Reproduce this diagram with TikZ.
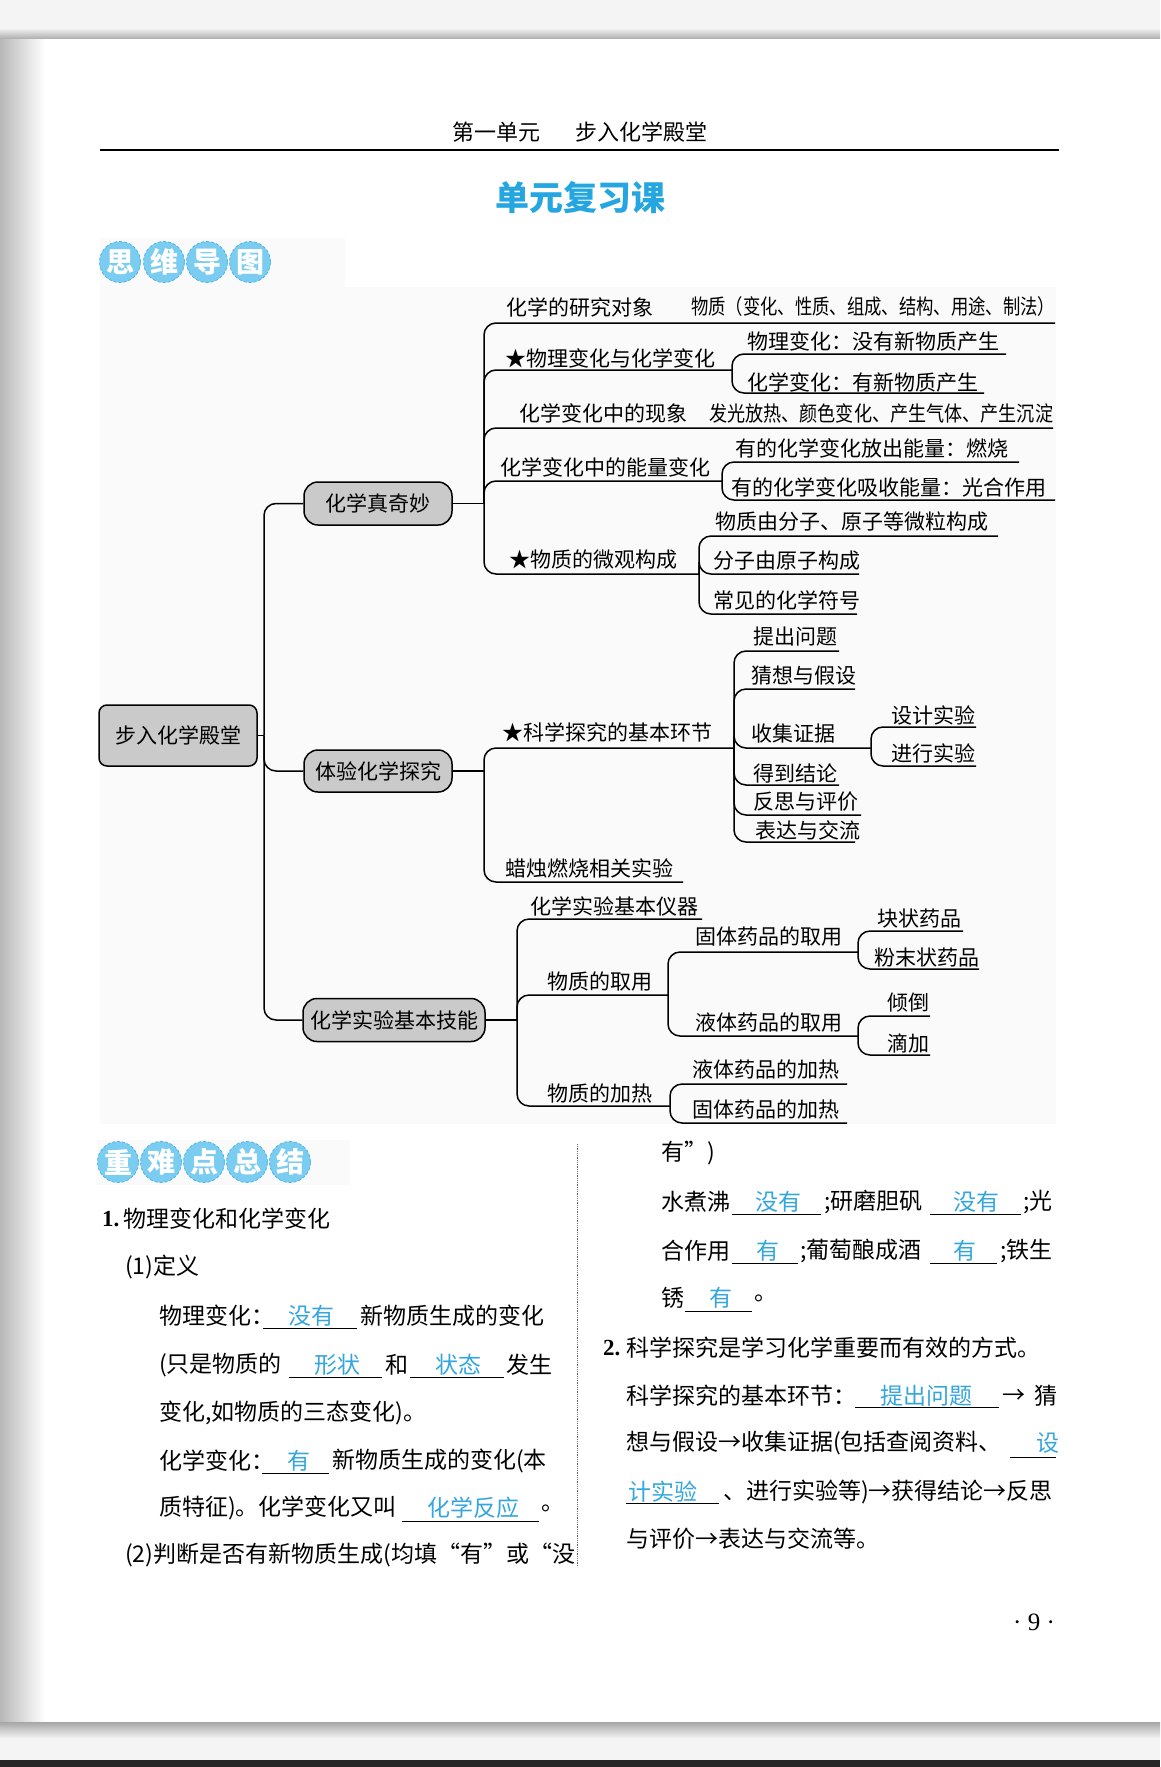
\documentclass[tikz,border=0pt]{standalone}
\usepackage{fontspec}
\usepackage{graphicx}
\setmainfont{Noto Sans CJK SC}
\newfontfamily\serifnum{Liberation Serif}
\definecolor{ansblue}{RGB}{52,166,220}
\definecolor{titleblue}{RGB}{38,166,224}
\definecolor{badgefill}{RGB}{122,204,240}
\definecolor{badgeedge}{RGB}{80,182,228}
\definecolor{boxgray}{RGB}{202,202,202}
\definecolor{bggray}{RGB}{250,250,250}
\definecolor{pagebg}{RGB}{244,244,244}
\tikzset{
  br/.style={line width=1.5pt, rounded corners=12pt},
  mm/.style={inner sep=0pt, anchor=west, font=\fontsize{21pt}{21pt}\selectfont},
  hub/.style={draw, line width=1.5pt, fill=boxgray, rounded corners=14pt, inner sep=0pt, font=\fontsize{21pt}{21pt}\selectfont},
  bt/.style={inner sep=0pt, anchor=west, font=\fontsize{23pt}{23pt}\selectfont},
  ans/.style={bt, text=ansblue},
  blank/.style={line width=0.9pt},
  badge/.style={circle, fill=badgefill, draw=badgeedge, densely dashed, line width=0.8pt, minimum size=41pt, inner sep=0pt, text=white, font=\fontsize{28pt}{28pt}\selectfont\bfseries},
}
\begin{document}
\begin{tikzpicture}[x=1pt,y=-1pt]
\useasboundingbox (0,0) rectangle (1160,1767);
% page background
\fill[pagebg] (0,0) rectangle (1160,1767);
\fill[white] (0,38) rectangle (1160,1722);
\shade[left color=black!28, right color=white] (0,38) rectangle (45,1722);
\shade[top color=pagebg, bottom color=black!30] (0,28) rectangle (1160,38);
\shade[top color=black!35, bottom color=pagebg] (0,1722) rectangle (1160,1738);
\fill[black!85] (0,1760) rectangle (1160,1767);

% header
\node[font=\fontsize{22pt}{22pt}\selectfont] (hdr) at (580,132) {第一单元\hspace{35pt}步入化学殿堂};
\draw[line width=1.1pt] (100,150) -- (1059,150);
\node[text=titleblue, font=\fontsize{34pt}{34pt}\selectfont\bfseries] (title) at (580,198) {单元复习课};

% badge 1
\fill[bggray] (100,238) rectangle (345,287);
\node[badge] (ba1) at (120,262) {思};
\node[badge] (ba2) at (164,262) {维};
\node[badge] (ba3) at (207,262) {导};
\node[badge] (ba4) at (250,262) {图};

% mind map background
\fill[bggray] (100,287) rectangle (1056,1124);

% hubs
\node[hub, minimum width=158pt, minimum height=61pt, rounded corners=8pt] (root) at (178,735.5) {步入化学殿堂};
\node[hub, minimum width=148pt, minimum height=43pt] (A) at (378,503.5) {化学真奇妙};
\node[hub, minimum width=148pt, minimum height=42pt] (B) at (378,771) {体验化学探究};
\node[hub, minimum width=182pt, minimum height=43pt] (C) at (394,1020) {化学实验基本技能};

\coordinate (S) at (264,735.5);
\draw[br] (root.east) -- (S);
\draw[br] (S) |- (A.west);
\draw[br] (S) |- (B.west);
\draw[br] (S) |- (C.west);

% ---- branch A
\coordinate (JA) at (484,503.5);
\draw[br] (A.east) -- (JA);
\node[mm] (a1) at (506,307) {化学的研究对象};
\node[mm] (a1x) at (691,307) {\scalebox{0.825}[1]{物质（变化、性质、组成、结构、用途、制法）}};
\coordinate (a1e) at (1055,323);
\draw[br] (JA) |- (a1e);

\node[mm] (a2) at (505,358) {★物理变化与化学变化};
\coordinate (a2e) at (732,370);
\draw[br] (JA) |- (a2e);
\node[mm] (a2a) at (747,341) {物理变化：没有新物质产生};
\coordinate (a2ae) at (1006,354);
\node[mm] (a2b) at (747,382) {化学变化：有新物质产生};
\coordinate (a2be) at (984,393);
\draw[br] (a2e) |- (a2ae);
\draw[br] (a2e) |- (a2be);

\node[mm] (a3) at (519,413) {化学变化中的现象};
\node[mm] (a3x) at (709,413) {\scalebox{0.862}[1]{发光放热、颜色变化、产生气体、产生沉淀}};
\coordinate (a3e) at (1053,428);
\draw[br] (JA) |- (a3e);

\node[mm] (a4) at (500,467) {化学变化中的能量变化};
\coordinate (a4e) at (722,481);
\draw[br] (JA) |- (a4e);
\node[mm] (a4a) at (735,448) {有的化学变化放出能量：燃烧};
\coordinate (a4ae) at (1019,462);
\node[mm] (a4b) at (731,487) {有的化学变化吸收能量：光合作用};
\coordinate (a4be) at (1055,500);
\draw[br] (a4e) |- (a4ae);
\draw[br] (a4e) |- (a4be);

\node[mm] (a5) at (509,560) {★物质的微观构成};
\coordinate (a5e) at (699,574);
\draw[br] (JA) |- (a5e);
\node[mm] (a5a) at (715,522) {物质由分子、原子等微粒构成};
\coordinate (a5ae) at (998,536);
\node[mm] (a5b) at (713,561) {分子由原子构成};
\coordinate (a5be) at (859,574);
\node[mm] (a5c) at (713,600) {常见的化学符号};
\coordinate (a5ce) at (857,614);
\draw[br] (a5e) |- (a5ae);
\draw[br] (a5e) |- (a5be);
\draw[br] (a5e) |- (a5ce);

% ---- branch B
\coordinate (JB) at (484,771);
\draw[br] (B.east) -- (JB);
\node[mm] (b1) at (502,732) {★科学探究的基本环节};
\coordinate (b1e) at (734,748);
\draw[br] (JB) |- (b1e);
\node[mm] (b1a) at (753,637) {提出问题};
\coordinate (b1ae) at (839,651);
\node[mm] (b1b) at (751,676) {猜想与假设};
\coordinate (b1be) at (855,689);
\node[mm] (b1c) at (751,733) {收集证据};
\coordinate (b1ce) at (871,748);
\node[mm] (b1d) at (753,773) {得到结论};
\coordinate (b1de) at (839,785);
\node[mm] (b1f) at (753,802) {反思与评价};
\coordinate (b1fe) at (861,815);
\node[mm] (b1g) at (755,830) {表达与交流};
\coordinate (b1ge) at (855,842);
\draw[br] (b1e) |- (b1ae);
\draw[br] (b1e) |- (b1be);
\draw[br] (b1e) |- (b1ce);
\draw[br] (b1e) |- (b1de);
\draw[br] (b1e) |- (b1fe);
\draw[br] (b1e) |- (b1ge);
\node[mm] (b1c1) at (891,715) {设计实验};
\coordinate (b1c1e) at (976,727);
\node[mm] (b1c2) at (891,753) {进行实验};
\coordinate (b1c2e) at (976,766);
\draw[br] (b1ce) |- (b1c1e);
\draw[br] (b1ce) |- (b1c2e);

\node[mm] (b2) at (505,868) {蜡烛燃烧相关实验};
\coordinate (b2e) at (683,882);
\draw[br] (JB) |- (b2e);

% ---- branch C
\coordinate (JC) at (517,1020);
\draw[br] (C.east) -- (JC);
\node[mm] (c1) at (530,906) {化学实验基本仪器};
\coordinate (c1e) at (702,919);
\draw[br] (JC) |- (c1e);
\node[mm] (c2) at (547,982) {物质的取用};
\coordinate (c2e) at (668,995);
\draw[br] (JC) |- (c2e);
\node[mm] (c3) at (547,1094) {物质的加热};
\coordinate (c3e) at (670,1106);
\draw[br] (JC) |- (c3e);

\node[mm] (c2a) at (695,937) {固体药品的取用};
\coordinate (c2ae) at (858,952);
\node[mm] (c2b) at (695,1023) {液体药品的取用};
\coordinate (c2be) at (858,1036);
\draw[br] (c2e) |- (c2ae);
\draw[br] (c2e) |- (c2be);
\node[mm] (c2a1) at (877,919) {块状药品};
\coordinate (c2a1e) at (963,931);
\node[mm] (c2a2) at (874,957) {粉末状药品};
\coordinate (c2a2e) at (979,969);
\draw[br] (c2ae) |- (c2a1e);
\draw[br] (c2ae) |- (c2a2e);
\node[mm] (c2b1) at (887,1003) {倾倒};
\coordinate (c2b1e) at (930,1016);
\node[mm] (c2b2) at (887,1043) {滴加};
\coordinate (c2b2e) at (930,1055);
\draw[br] (c2be) |- (c2b1e);
\draw[br] (c2be) |- (c2b2e);

\node[mm] (c3a) at (692,1070) {液体药品的加热};
\coordinate (c3ae) at (847,1084);
\node[mm] (c3b) at (692,1110) {固体药品的加热};
\coordinate (c3be) at (847,1123);
\draw[br] (c3e) |- (c3ae);
\draw[br] (c3e) |- (c3be);

% ---- badge 2
\fill[bggray] (97,1140) rectangle (350,1185);
\node[badge] (bb1) at (118,1162) {重};
\node[badge] (bb2) at (161,1162) {难};
\node[badge] (bb3) at (204,1162) {点};
\node[badge] (bb4) at (247,1162) {总};
\node[badge] (bb5) at (290,1162) {结};

\draw[densely dotted, line width=0.8pt, black!60] (577,1144) -- (577,1567);

% ---- left column
\node[bt] (l1n) at (102,1219) {\serifnum\bfseries 1.};
\node[bt] (l1) at (123,1219) {物理变化和化学变化};
\node[bt] (l2) at (125,1267) {(1)定义};
\node[bt] (l3a) at (159,1316) {物理变化：};
\draw[blank] (263,1328) -- (357,1328);
\node[ans] (l3b) at (288,1316) {没有};
\node[bt] (l3c) at (360,1316) {新物质生成的变化};
\node[bt] (l4a) at (159,1365) {(只是物质的};
\draw[blank] (289,1377) -- (382,1377);
\node[ans] (l4b) at (314,1365) {形状};
\node[bt] (l4c) at (385,1365) {和};
\draw[blank] (410,1377) -- (504,1377);
\node[ans] (l4d) at (435,1365) {状态};
\node[bt] (l4e) at (506,1365) {发生};
\node[bt] (l5) at (159,1413) {变化,如物质的三态变化)。};
\node[bt] (l6a) at (159,1461) {化学变化：};
\draw[blank] (262,1473) -- (329,1473);
\node[ans] (l6b) at (287,1461) {有};
\node[bt] (l6c) at (332,1461) {新物质生成的变化(本};
\node[bt] (l7a) at (159,1508) {质特征)。化学变化又叫};
\draw[blank] (402,1521) -- (539,1521);
\node[ans] (l7b) at (427,1508) {化学反应};
\node[bt] (l7c) at (541,1508) {。};
\node[bt] (l8) at (125,1555) {(2)判断是否有新物质生成(均填“有”或“没};

% ---- right column
\node[bt] (r1) at (661,1153) {有”)};
\node[bt] (r2a) at (661,1202) {水煮沸};
\draw[blank] (732,1214) -- (821,1214);
\node[ans] (r2b) at (755,1202) {没有};
\node[bt] (r2c) at (824,1202) {;研磨胆矾};
\draw[blank] (930,1214) -- (1021,1214);
\node[ans] (r2d) at (953,1202) {没有};
\node[bt] (r2e) at (1023,1202) {;光};
\node[bt] (r3a) at (661,1251) {合作用};
\draw[blank] (732,1263) -- (798,1263);
\node[ans] (r3b) at (756,1251) {有};
\node[bt] (r3c) at (800,1251) {;葡萄酿成酒};
\draw[blank] (930,1263) -- (997,1263);
\node[ans] (r3d) at (953,1251) {有};
\node[bt] (r3e) at (1000,1251) {;铁生};
\node[bt] (r4a) at (661,1298) {锈};
\draw[blank] (685,1311) -- (752,1311);
\node[ans] (r4b) at (709,1298) {有};
\node[bt] (r4c) at (754,1298) {。};
\node[bt] (r5n) at (603,1348) {\serifnum\bfseries 2.};
\node[bt] (r5) at (626,1348) {科学探究是学习化学重要而有效的方式。};
\node[bt] (r6a) at (626,1396) {科学探究的基本环节：};
\draw[blank] (855,1407) -- (999,1407);
\node[ans] (r6b) at (880,1396) {提出问题};
\node[bt] (r6c) at (1002,1396) {→};
\node[bt] (r6d) at (1034,1396) {猜};
\node[bt] (r7a) at (626,1443) {想与假设→收集证据(包括查阅资料、};
\draw[blank] (1010,1457) -- (1056,1457);
\node[ans] (r7b) at (1036,1443) {设};
\draw[blank] (626,1503) -- (719,1503);
\node[ans] (r8a) at (628,1492) {计实验};
\node[bt] (r8b) at (723,1492) {、进行实验等)→获得结论→反思};
\node[bt] (r9) at (626,1539) {与评价→表达与交流等。};

\node[font=\fontsize{25pt}{25pt}\selectfont\serifnum] (pg) at (1034,1622) {· 9 ·};
\end{tikzpicture}
\end{document}
